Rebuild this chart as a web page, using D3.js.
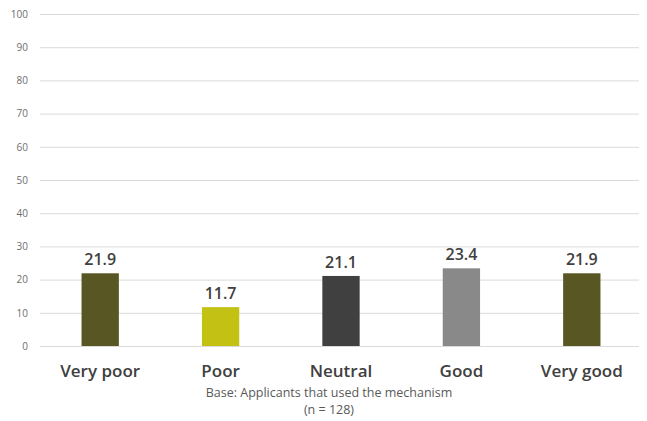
<!DOCTYPE html>
<html>
<head>
<meta charset="utf-8">
<script src="https://cdn.jsdelivr.net/npm/d3@7"></script>
<style>
  html, body { margin: 0; padding: 0; background: #ffffff; }
  svg { display: block; }
</style>
</head>
<body>
<div id="chart"></div>
<script>
// Ratings given by applicants (percent)
const categories = ["Very poor", "Poor", "Neutral", "Good", "Very good"];
const values = [21.9, 11.7, 21.1, 23.4, 21.9];
const barColors = ["#585723", "#c3c214", "#404040", "#898989", "#585723"];
const yTicks = [0, 10, 20, 30, 40, 50, 60, 70, 80, 90, 100];
const baseNote = ["Base: Applicants that used the mechanism", "(n = 128)"];

const width = 647, height = 421;
const margin = { top: 14, right: 5, bottom: 75, left: 40 };
const font = "'Open Sans', 'Noto Sans', sans-serif";

const svg = d3.select("#chart").append("svg")
  .attr("width", width)
  .attr("height", height);

const x = d3.scaleBand()
  .domain(categories)
  .range([margin.left, width - margin.right])
  .paddingInner(0.69)
  .paddingOuter(0.345);

const y = d3.scaleLinear()
  .domain([0, 100])
  .range([height - margin.bottom, margin.top]);

// Horizontal gridlines with value labels on the left
const yAxis = d3.axisLeft(y)
  .tickValues(yTicks)
  .tickSize(-(width - margin.right - margin.left - 3))
  .tickPadding(12);

const gy = svg.append("g")
  .attr("transform", `translate(${margin.left},0)`)
  .call(yAxis);
gy.select(".domain").remove();
gy.selectAll(".tick line")
  .attr("stroke", "#dadada")
  .attr("stroke-width", 1);
gy.selectAll(".tick text")
  .attr("fill", "#6e6e6e")
  .attr("font-family", font)
  .attr("font-size", 10);

// Bars
svg.append("g")
  .selectAll("rect")
  .data(values)
  .join("rect")
  .attr("x", (d, i) => x(categories[i]))
  .attr("y", d => y(d))
  .attr("width", x.bandwidth())
  .attr("height", d => y(0) - y(d))
  .attr("fill", (d, i) => barColors[i]);

// Value labels above each bar
svg.append("g")
  .selectAll("text")
  .data(values)
  .join("text")
  .attr("x", (d, i) => x(categories[i]) + x.bandwidth() / 2)
  .attr("y", d => y(d) - 8)
  .attr("text-anchor", "middle")
  .attr("fill", "#404040")
  .attr("font-family", font)
  .attr("font-weight", 600)
  .attr("font-size", 16)
  .text(d => d.toFixed(1));

// Category labels
svg.append("g")
  .selectAll("text")
  .data(categories)
  .join("text")
  .attr("x", d => x(d) + x.bandwidth() / 2)
  .attr("y", y(0) + 31)
  .attr("text-anchor", "middle")
  .attr("fill", "#404040")
  .attr("font-family", font)
  .attr("font-weight", 600)
  .attr("font-size", 17)
  .text(d => d);

// Base note under the chart
svg.append("g")
  .selectAll("text")
  .data(baseNote)
  .join("text")
  .attr("x", 329)
  .attr("y", (d, i) => 397 + i * 17)
  .attr("text-anchor", "middle")
  .attr("fill", "#595959")
  .attr("font-family", font)
  .attr("font-size", 12.5)
  .text(d => d);
</script>
</body>
</html>
